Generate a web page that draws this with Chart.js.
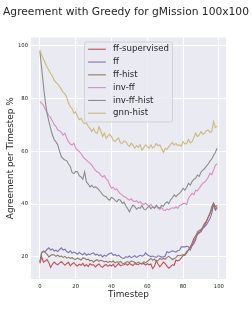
<!DOCTYPE html>
<html>
<head>
<meta charset="utf-8">
<script src="https://cdn.jsdelivr.net/npm/chart.js@4.4.1/dist/chart.umd.min.js"></script>
<style>
html,body{margin:0;padding:0;background:#ffffff;}
canvas{display:block;}
</style>
</head>
<body>
<canvas id="c" width="252" height="315"></canvas>
<script>
const titleText = "Agreement with Greedy for gMission 100x100";
const xLabel = "Timestep";
const yLabel = "Agreement per Timestep %";
const seriesNames = ["ff-supervised", "ff", "ff-hist", "inv-ff", "inv-ff-hist", "gnn-hist"];
const seriesColors = ["#C44E52", "#8172B3", "#937860", "#DA8BC3", "#8C8C8C", "#CCB974"];
const xTicks = [0, 20, 40, 60, 80, 100];
const yTicks = [20, 40, 60, 80, 100];
const timesteps = Array.from({length: 100}, (_, i) => i);

const ffSupervised = [
17.5,20,18,18.4,19,17.8,16,17.2,18,17.4,
17,17.6,18.2,17.5,16.8,17.5,17.9,16.6,17.3,17.8,
17,16.5,17.2,16.8,17.5,16.5,17.1,16.3,17.4,16.9,
17,16.2,16.8,17.3,16.5,16,16.7,17.1,16.4,16.9,
16.5,17.2,16.1,16.8,17.5,16.6,16.9,17,17.4,16.8,
17.5,17.1,16.7,17.5,17.1,17,17.6,17.2,17.5,16.9,
17.4,17,17.3,15.5,16.4,18.5,17.3,16.2,17.1,18,
17.4,16.5,15.7,16.3,17,16.8,18.8,18.5,18.8,19.6,
20.5,20.9,22,22.6,23.8,25.2,27,28,29,29.3,
29.5,30.8,32,33.2,35,36.4,37.8,40.3,39,39.5];

const ff = [
18,21.5,22.2,22,22.8,23.4,22.6,23,22.2,22.5,
22,22.8,23.4,22.6,22.9,22,21.6,22.3,21.4,21.8,
21.5,21,21.7,21.2,20.8,21.4,20.6,21.1,20.8,21.3,
21.5,20.7,21,20.4,20.8,20,20.6,20.2,20.9,21.3,
21.5,20.6,20.9,20.3,20.6,20,19.6,19.4,20.1,19.8,
20.3,19.7,20,20.4,19.8,20.2,20.6,20.3,20.5,21.5,
20.8,20.4,20.1,20.3,20,19.8,20.4,20.2,19.9,20,
20.3,22,21.6,21.9,22.3,22,21.8,22.4,22.5,23.8,
23.8,23.8,24,23.8,22.6,24.2,25,26.5,29.5,30,
30.4,30.9,31.4,32.2,33.3,34.5,36.5,40,37.8,38.5];

const ffHist = [
18,21.8,22,21.6,21,20,20.5,20.9,20.7,20.2,
20.6,20.1,20.3,19.8,20.2,19.5,19.9,19.4,19.7,19.2,
19,19.5,19.2,18.8,19.6,19.5,18.9,19.1,18.5,18.7,
18,18.6,18.9,18.3,18.7,18.5,18.1,18.4,17.8,18.3,
18,18.4,17.7,18.1,17.9,18.3,17.6,17.5,17.9,18.2,
17.8,18.4,18.2,17.9,17.5,18,17.6,17.5,18.1,17.8,
18.3,18.8,19.4,18.7,19.2,18.2,18.6,19.4,19,19.4,
19.1,19.8,20.2,19.6,19,19.4,19.7,20.6,20.4,20.6,
20.8,20.6,21.5,22.6,23.5,24.4,26,27,28.5,29,
30.2,31.4,32.7,33.6,35,36.5,39,40.3,37.8,39];

const invFF = [
79,78.2,77.5,76,74.8,73.6,72.8,71.5,70.2,69.4,
68.1,67.8,67.2,66.2,66.9,65,63.7,62.8,62.4,63.1,
61.2,60.6,59.9,59.2,58,57.3,56.7,56,55.5,54.8,
53.8,52.8,52.3,51.9,51,50.3,50.8,49.6,49,47.2,
46,46.4,45.4,45.8,44.6,43.9,43.4,42.8,42.6,41.9,
41.5,42,41.2,40.9,41.3,40.5,40.9,40.3,39.8,40.4,
39.7,39.2,39.9,39,38.6,39.2,38.4,38,38.7,37.8,
37.6,38.2,37.8,38.3,38.6,38.4,39,38.4,39.5,39.7,
40.2,40.3,39.8,42.2,43.2,44.1,43.6,45.3,45,46,
47,47.9,48.3,49.1,50.2,51.7,51.2,52.9,54.7,55.3];

const invFFHist = [
98,91.5,85,79,74.5,71.5,68.7,66.2,64.5,63.6,
62.5,60,58,57.2,56.7,56.5,55.2,54.3,51.9,51.6,
52.4,52.3,50.8,50.3,49.4,52.2,48.4,47.6,46.5,47.1,
46.3,46.5,46.1,45.4,44.6,43.6,43.1,42.8,41.9,41.5,
42.6,42.2,41.4,40.9,41.8,41.5,40.3,40.8,39.4,38.3,
37.1,38.5,39.6,39,38.1,38.7,38.4,39.5,38.2,37.8,
38.6,39.3,38.2,39,38.4,39.6,38.8,38.4,39.5,39.2,
40.3,40.9,40.1,41.6,42.4,43.5,42.8,43.6,44.1,44.9,
46,45.3,46.4,47.9,47.2,48.6,49.4,49.8,51,50.5,
52.2,52.9,53.5,54.4,55.2,56.3,57.1,58.5,59.6,61.2];

const gnnHist = [
98.5,96.5,95,93.5,92,90.8,89.5,88.6,87,86.2,
85.5,84.6,83.5,82.4,81.8,80.5,78.3,77,76.2,74.5,
75,73.2,72,72.5,71.2,70.5,70.8,69.5,68.7,67.5,
68.6,67.2,66.8,69.3,67.8,65.6,66.9,65,65.8,66.5,
65.6,64.2,63.7,64.5,65,63.2,63.1,64,63.7,62.6,
61.8,63.1,62.3,61.2,62.2,61.5,62.5,60.5,61.4,62.5,
61.8,61.2,62.4,61.3,61.8,63,62.1,62.5,61,59.6,
61.2,60.8,61.8,62.6,63.4,62.4,63,62.2,62.5,61.9,
63.7,62.8,63,64.6,63.2,63.7,65.2,66.9,65.6,66.2,
67.5,66.4,66.9,67.8,68.1,67.2,67.5,71.3,69,69.6];

const seriesValues = [ffSupervised, ff, ffHist, invFF, invFFHist, gnnHist];

const FONT = "'DejaVu Sans', sans-serif";
const TEXT = "#262626";

const bgPlugin = {
  id: 'bg',
  beforeDraw(chart) {
    const {ctx, chartArea: a} = chart;
    ctx.save();
    ctx.fillStyle = '#EAEAF2';
    ctx.fillRect(a.left, a.top, a.right - a.left, a.bottom - a.top);
    ctx.restore();
  }
};

const legendPlugin = {
  id: 'boxLegend',
  afterDatasetsDraw(chart) {
    const {ctx, chartArea: a} = chart;
    const fs = 8.6;
    ctx.save();
    ctx.font = fs + "px " + FONT;
    const names = chart.data.datasets.map(d => d.label);
    const maxW = Math.max(...names.map(n => ctx.measureText(n).width));
    const pad = 3.6, hl = 17.8, hp = 7.1, rowH = 12.8;
    const w = pad + hl + hp + maxW + pad;
    const h = 80;
    const left = (a.left + a.right) / 2 - w / 2;
    const top = a.top + 4.5;
    ctx.beginPath();
    if (ctx.roundRect) ctx.roundRect(left, top, w, h, 2); else ctx.rect(left, top, w, h);
    ctx.fillStyle = 'rgba(234,234,242,0.8)';
    ctx.fill();
    ctx.strokeStyle = 'rgba(204,204,204,0.8)';
    ctx.lineWidth = 1;
    ctx.stroke();
    chart.data.datasets.forEach((d, i) => {
      const y = top + 7.3 + i * rowH;
      ctx.beginPath();
      ctx.strokeStyle = d.borderColor;
      ctx.lineWidth = 1.1;
      ctx.moveTo(left + pad, y);
      ctx.lineTo(left + pad + hl, y);
      ctx.stroke();
      ctx.fillStyle = TEXT;
      ctx.textBaseline = 'middle';
      ctx.textAlign = 'left';
      ctx.fillText(d.label, left + pad + hl + hp, y);
    });
    ctx.restore();
  }
};

const datasets = seriesNames.map((name, i) => ({
  label: name,
  data: timesteps.map((t, j) => ({x: t, y: seriesValues[i][j]})),
  borderColor: seriesColors[i],
  backgroundColor: seriesColors[i],
  borderWidth: 1.1,
  pointRadius: 0,
  tension: 0,
  fill: false,
  order: seriesNames.length - i
}));

new Chart(document.getElementById('c'), {
  type: 'line',
  data: { datasets },
  plugins: [bgPlugin, legendPlugin],
  options: {
    responsive: false,
    devicePixelRatio: 1,
    animation: false,
    layout: { padding: { left: 0, right: 0, top: 0, bottom: 0 } },
    plugins: {
      legend: { display: false },
      tooltip: { enabled: false },
      title: {
        display: true,
        text: titleText,
        color: TEXT,
        font: { family: FONT, size: 10.7, weight: 'normal' },
        padding: { top: 6, bottom: 18.6 }
      }
    },
    scales: {
      x: {
        type: 'linear',
        min: -4.95,
        max: 103.95,
        afterBuildTicks(s) { s.ticks = xTicks.map(v => ({value: v})); },
        afterFit(s) { s.height = 36; },
        grid: { color: '#ffffff', lineWidth: 1, drawTicks: false },
        border: { display: false },
        ticks: { color: TEXT, font: { family: FONT, size: 5.3 }, padding: 4, maxRotation: 0, autoSkip: false },
        title: { display: true, text: xLabel, color: TEXT, font: { family: FONT, size: 8.9 }, padding: { top: 0, bottom: 14.6 } }
      },
      y: {
        type: 'linear',
        min: 11.6,
        max: 103.2,
        afterBuildTicks(s) { s.ticks = yTicks.map(v => ({value: v})); },
        afterFit(s) { s.width = 31; },
        grid: { color: '#ffffff', lineWidth: 1, drawTicks: false },
        border: { display: false },
        ticks: { color: TEXT, font: { family: FONT, size: 5.3 }, padding: 3, autoSkip: false },
        title: { display: true, text: yLabel, color: TEXT, font: { family: FONT, size: 8.9 }, padding: { top: 5.6, bottom: 0 } }
      },
      rightSpace: {
        type: 'linear',
        position: 'right',
        display: true,
        afterFit(s) { s.width = 26; },
        grid: { display: false, drawTicks: false },
        border: { display: false },
        ticks: { display: false }
      }
    }
  }
});
</script>
</body>
</html>
